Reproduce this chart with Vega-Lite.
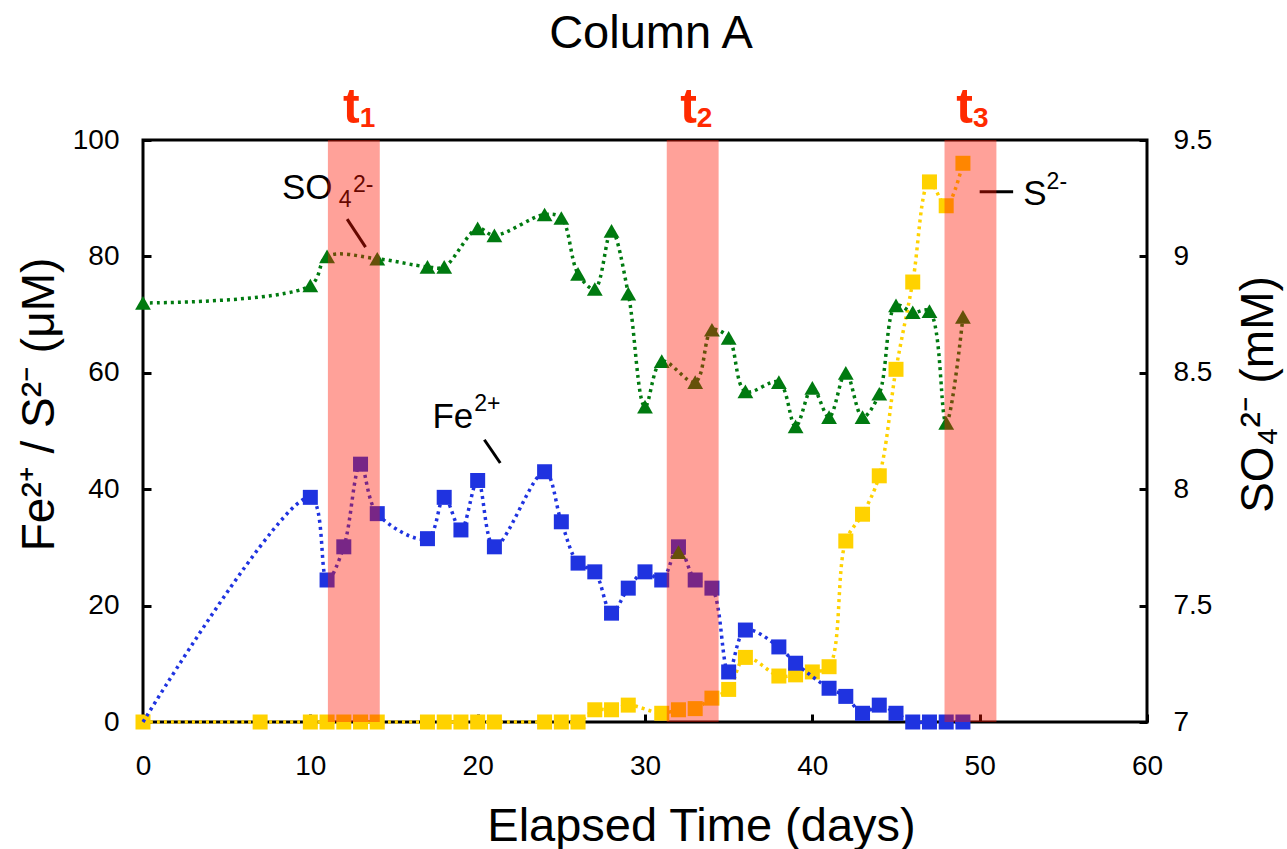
{
  "$schema": "https://vega.github.io/schema/vega-lite/v6.json",
  "width": 1004,
  "height": 582,
  "autosize": {"type": "none"},
  "padding": {"left": 143, "top": 140, "right": 140, "bottom": 127},
  "background": "white",
  "config": {
    "font": "Liberation Sans",
    "view": {"stroke": "black", "strokeWidth": 3},
    "axis": {"domain": false, "grid": false, "tickColor": "black", "tickWidth": 3, "tickSize": -8, "labelFlush": false, "labelFontSize": 28, "labelColor": "black", "labelFont": "Liberation Sans", "titleFont": "Liberation Sans", "titleFontSize": 46, "titleFontWeight": "normal", "titleColor": "black"}
  },
  "datasets": {
    "fe": [
      {"day": 0, "value": 0}, {"day": 10, "value": 38.6}, {"day": 11, "value": 24.4}, {"day": 12, "value": 30.1}, {"day": 13, "value": 44.3}, {"day": 14, "value": 35.8},
      {"day": 17, "value": 31.5}, {"day": 18, "value": 38.6}, {"day": 19, "value": 33.0}, {"day": 20, "value": 41.5}, {"day": 21, "value": 30.1},
      {"day": 24, "value": 43.0}, {"day": 25, "value": 34.4}, {"day": 26, "value": 27.3}, {"day": 27, "value": 25.8}, {"day": 28, "value": 18.7},
      {"day": 29, "value": 23.0}, {"day": 30, "value": 25.8}, {"day": 31, "value": 24.4}, {"day": 32, "value": 30.1}, {"day": 33, "value": 24.4},
      {"day": 34, "value": 23.0}, {"day": 35, "value": 8.6}, {"day": 36, "value": 15.8}, {"day": 38, "value": 12.9}, {"day": 39, "value": 10.1},
      {"day": 41, "value": 5.8}, {"day": 42, "value": 4.4}, {"day": 43, "value": 1.5}, {"day": 44, "value": 2.9}, {"day": 45, "value": 1.5},
      {"day": 46, "value": 0}, {"day": 47, "value": 0}, {"day": 48, "value": 0}, {"day": 49, "value": 0}
    ],
    "s": [
      {"day": 0, "value": 0}, {"day": 7, "value": 0}, {"day": 10, "value": 0}, {"day": 11, "value": 0}, {"day": 12, "value": 0}, {"day": 13, "value": 0},
      {"day": 14, "value": 0}, {"day": 17, "value": 0}, {"day": 18, "value": 0}, {"day": 19, "value": 0}, {"day": 20, "value": 0}, {"day": 21, "value": 0},
      {"day": 24, "value": 0}, {"day": 25, "value": 0}, {"day": 26, "value": 0}, {"day": 27, "value": 2.1}, {"day": 28, "value": 2.1}, {"day": 29, "value": 2.9},
      {"day": 31, "value": 1.5}, {"day": 32, "value": 2.1}, {"day": 33, "value": 2.3}, {"day": 34, "value": 4.1}, {"day": 35, "value": 5.6}, {"day": 36, "value": 11.1},
      {"day": 38, "value": 7.9}, {"day": 39, "value": 8.1}, {"day": 40, "value": 8.6}, {"day": 41, "value": 9.5}, {"day": 42, "value": 31.1}, {"day": 43, "value": 35.7},
      {"day": 44, "value": 42.3}, {"day": 45, "value": 60.6}, {"day": 46, "value": 75.6}, {"day": 47, "value": 92.8}, {"day": 48, "value": 88.7}, {"day": 49, "value": 96.0}
    ],
    "so4": [
      {"day": 0, "value": 8.8}, {"day": 10, "value": 8.875}, {"day": 11, "value": 9.0}, {"day": 14, "value": 8.99}, {"day": 17, "value": 8.955}, {"day": 18, "value": 8.955},
      {"day": 20, "value": 9.12}, {"day": 21, "value": 9.09}, {"day": 24, "value": 9.18}, {"day": 25, "value": 9.165}, {"day": 26, "value": 8.925}, {"day": 27, "value": 8.86},
      {"day": 28, "value": 9.11}, {"day": 29, "value": 8.84}, {"day": 30, "value": 8.355}, {"day": 31, "value": 8.55}, {"day": 33, "value": 8.46}, {"day": 34, "value": 8.685},
      {"day": 35, "value": 8.65}, {"day": 36, "value": 8.42}, {"day": 38, "value": 8.46}, {"day": 39, "value": 8.27}, {"day": 40, "value": 8.435}, {"day": 41, "value": 8.31},
      {"day": 42, "value": 8.5}, {"day": 43, "value": 8.31}, {"day": 44, "value": 8.41}, {"day": 45, "value": 8.79}, {"day": 46, "value": 8.76}, {"day": 47, "value": 8.765},
      {"day": 48, "value": 8.285}, {"day": 49, "value": 8.74}
    ],
    "so4extra": [{"day": 32, "value": 7.73}],
    "labels": [
      {"part": "main", "text": "SO", "day": 8.3, "value": 89.8},
      {"part": "small", "text": "4", "day": 11.7, "value": 88.5},
      {"part": "small", "text": "2-", "day": 12.55, "value": 91.1},
      {"part": "main", "text": "Fe", "day": 17.3, "value": 50.5},
      {"part": "small", "text": "2+", "day": 19.8, "value": 53.4},
      {"part": "main", "text": "S", "day": 52.6, "value": 88.9},
      {"part": "small", "text": "2-", "day": 54.0, "value": 91.5}
    ],
    "leaders": [
      {"day": 12.2, "value": 86.4, "day2": 13.3, "value2": 81.6},
      {"day": 20.4, "value": 48.5, "day2": 21.35, "value2": 44.5},
      {"day": 50.0, "value": 91.1, "day2": 52.0, "value2": 91.1}
    ],
    "bands": [
      {"label": "1", "start": 11.05, "end": 14.15, "labelDay": 12.95},
      {"label": "2", "start": 31.3, "end": 34.4, "labelDay": 33.1},
      {"label": "3", "start": 47.9, "end": 51.0, "labelDay": 49.6}
    ],
    "heading": [{"text": "Column A", "day": 30.36, "value": 115.8}]
  },
  "layer": [
    {
      "layer": [
        {"data": {"name": "s"}, "mark": {"type": "line", "color": "#FFD200", "strokeWidth": 3.5, "strokeDash": [3, 4], "interpolate": "catmull-rom"},
         "encoding": {
           "x": {"field": "day", "type": "quantitative", "scale": {"domain": [0, 60], "nice": false}, "axis": {"title": "Elapsed Time (days)", "values": [0, 10, 20, 30, 40, 50, 60], "labelPadding": 38, "titleX": 558, "titleY": 118, "titleBaseline": "alphabetic", "titleAlign": "center", "titleFontSize": 47}},
           "y": {"field": "value", "type": "quantitative", "scale": {"domain": [0, 100], "nice": false}, "axis": {"title": "Fe²⁺ / S²⁻ (μM)", "orient": "left", "values": [0, 20, 40, 60, 80, 100], "labelPadding": 32, "titleAngle": -90, "titleX": -90, "titleY": 264, "titleBaseline": "alphabetic", "titleAlign": "center"}}
         }},
        {"data": {"name": "s"}, "mark": {"type": "point", "shape": "square", "filled": true, "size": 225, "color": "#FFD200", "opacity": 1},
         "encoding": {"x": {"field": "day", "type": "quantitative"}, "y": {"field": "value", "type": "quantitative"}}},
        {"data": {"name": "fe"}, "mark": {"type": "line", "color": "#1F33E0", "strokeWidth": 3.5, "strokeDash": [3, 4], "interpolate": "catmull-rom"},
         "encoding": {"x": {"field": "day", "type": "quantitative"}, "y": {"field": "value", "type": "quantitative"}}},
        {"data": {"name": "fe"}, "transform": [{"filter": "datum.day > 0"}], "mark": {"type": "point", "shape": "square", "filled": true, "size": 225, "color": "#1F33E0", "opacity": 1},
         "encoding": {"x": {"field": "day", "type": "quantitative"}, "y": {"field": "value", "type": "quantitative"}}},
        {"data": {"name": "labels"}, "transform": [{"filter": "datum.part === 'main'"}], "mark": {"type": "text", "align": "left", "baseline": "alphabetic", "fontSize": 35, "color": "black"},
         "encoding": {"x": {"field": "day", "type": "quantitative"}, "y": {"field": "value", "type": "quantitative"}, "text": {"field": "text"}}},
        {"data": {"name": "labels"}, "transform": [{"filter": "datum.part === 'small'"}], "mark": {"type": "text", "align": "left", "baseline": "alphabetic", "fontSize": 23, "color": "black"},
         "encoding": {"x": {"field": "day", "type": "quantitative"}, "y": {"field": "value", "type": "quantitative"}, "text": {"field": "text"}}},
        {"data": {"name": "leaders"}, "mark": {"type": "rule", "color": "black", "strokeWidth": 3},
         "encoding": {"x": {"field": "day", "type": "quantitative"}, "y": {"field": "value", "type": "quantitative"}, "x2": {"field": "day2"}, "y2": {"field": "value2"}}},
        {"data": {"name": "bands"}, "mark": {"type": "text", "align": "right", "baseline": "alphabetic", "fontSize": 50, "fontWeight": "bold", "color": "#FF2A00"},
         "encoding": {"x": {"field": "labelDay", "type": "quantitative"}, "y": {"datum": 103, "type": "quantitative"}, "text": {"value": "t"}}},
        {"data": {"name": "bands"}, "mark": {"type": "text", "align": "left", "baseline": "alphabetic", "fontSize": 28, "fontWeight": "bold", "color": "#FF2A00", "dy": 4},
         "encoding": {"x": {"field": "labelDay", "type": "quantitative"}, "y": {"datum": 103, "type": "quantitative"}, "text": {"field": "label"}}},
        {"data": {"name": "heading"}, "mark": {"type": "text", "align": "center", "baseline": "alphabetic", "fontSize": 47, "color": "black"},
         "encoding": {"x": {"field": "day", "type": "quantitative"}, "y": {"field": "value", "type": "quantitative"}, "text": {"field": "text"}}}
      ]
    },
    {
      "layer": [
        {"data": {"name": "so4"}, "mark": {"type": "line", "color": "#007A10", "strokeWidth": 3.5, "strokeDash": [3, 4], "interpolate": "catmull-rom"},
         "encoding": {
           "x": {"field": "day", "type": "quantitative"},
           "y": {"field": "value", "type": "quantitative", "scale": {"domain": [7, 9.5], "nice": false}, "axis": {"title": "SO₄²⁻ (mM)", "orient": "right", "values": [7, 7.5, 8, 8.5, 9, 9.5], "format": "~g", "labelPadding": 34, "titleAngle": -90, "titleX": 125, "titleY": 254, "titleBaseline": "alphabetic", "titleAlign": "center"}}
         }},
        {"data": {"name": "so4"}, "mark": {"type": "point", "shape": "triangle-up", "filled": true, "size": 250, "color": "#007A10", "opacity": 1},
         "encoding": {"x": {"field": "day", "type": "quantitative"}, "y": {"field": "value", "type": "quantitative"}}},
        {"data": {"name": "so4extra"}, "mark": {"type": "point", "shape": "triangle-up", "filled": true, "size": 250, "color": "#007A10", "opacity": 1},
         "encoding": {"x": {"field": "day", "type": "quantitative"}, "y": {"field": "value", "type": "quantitative"}}}
      ]
    },
    {"data": {"name": "bands"}, "mark": {"type": "rect", "color": "#FF1400", "opacity": 0.4},
     "encoding": {"x": {"field": "start", "type": "quantitative"}, "x2": {"field": "end"}}}
  ],
  "resolve": {"scale": {"y": "independent"}}
}
